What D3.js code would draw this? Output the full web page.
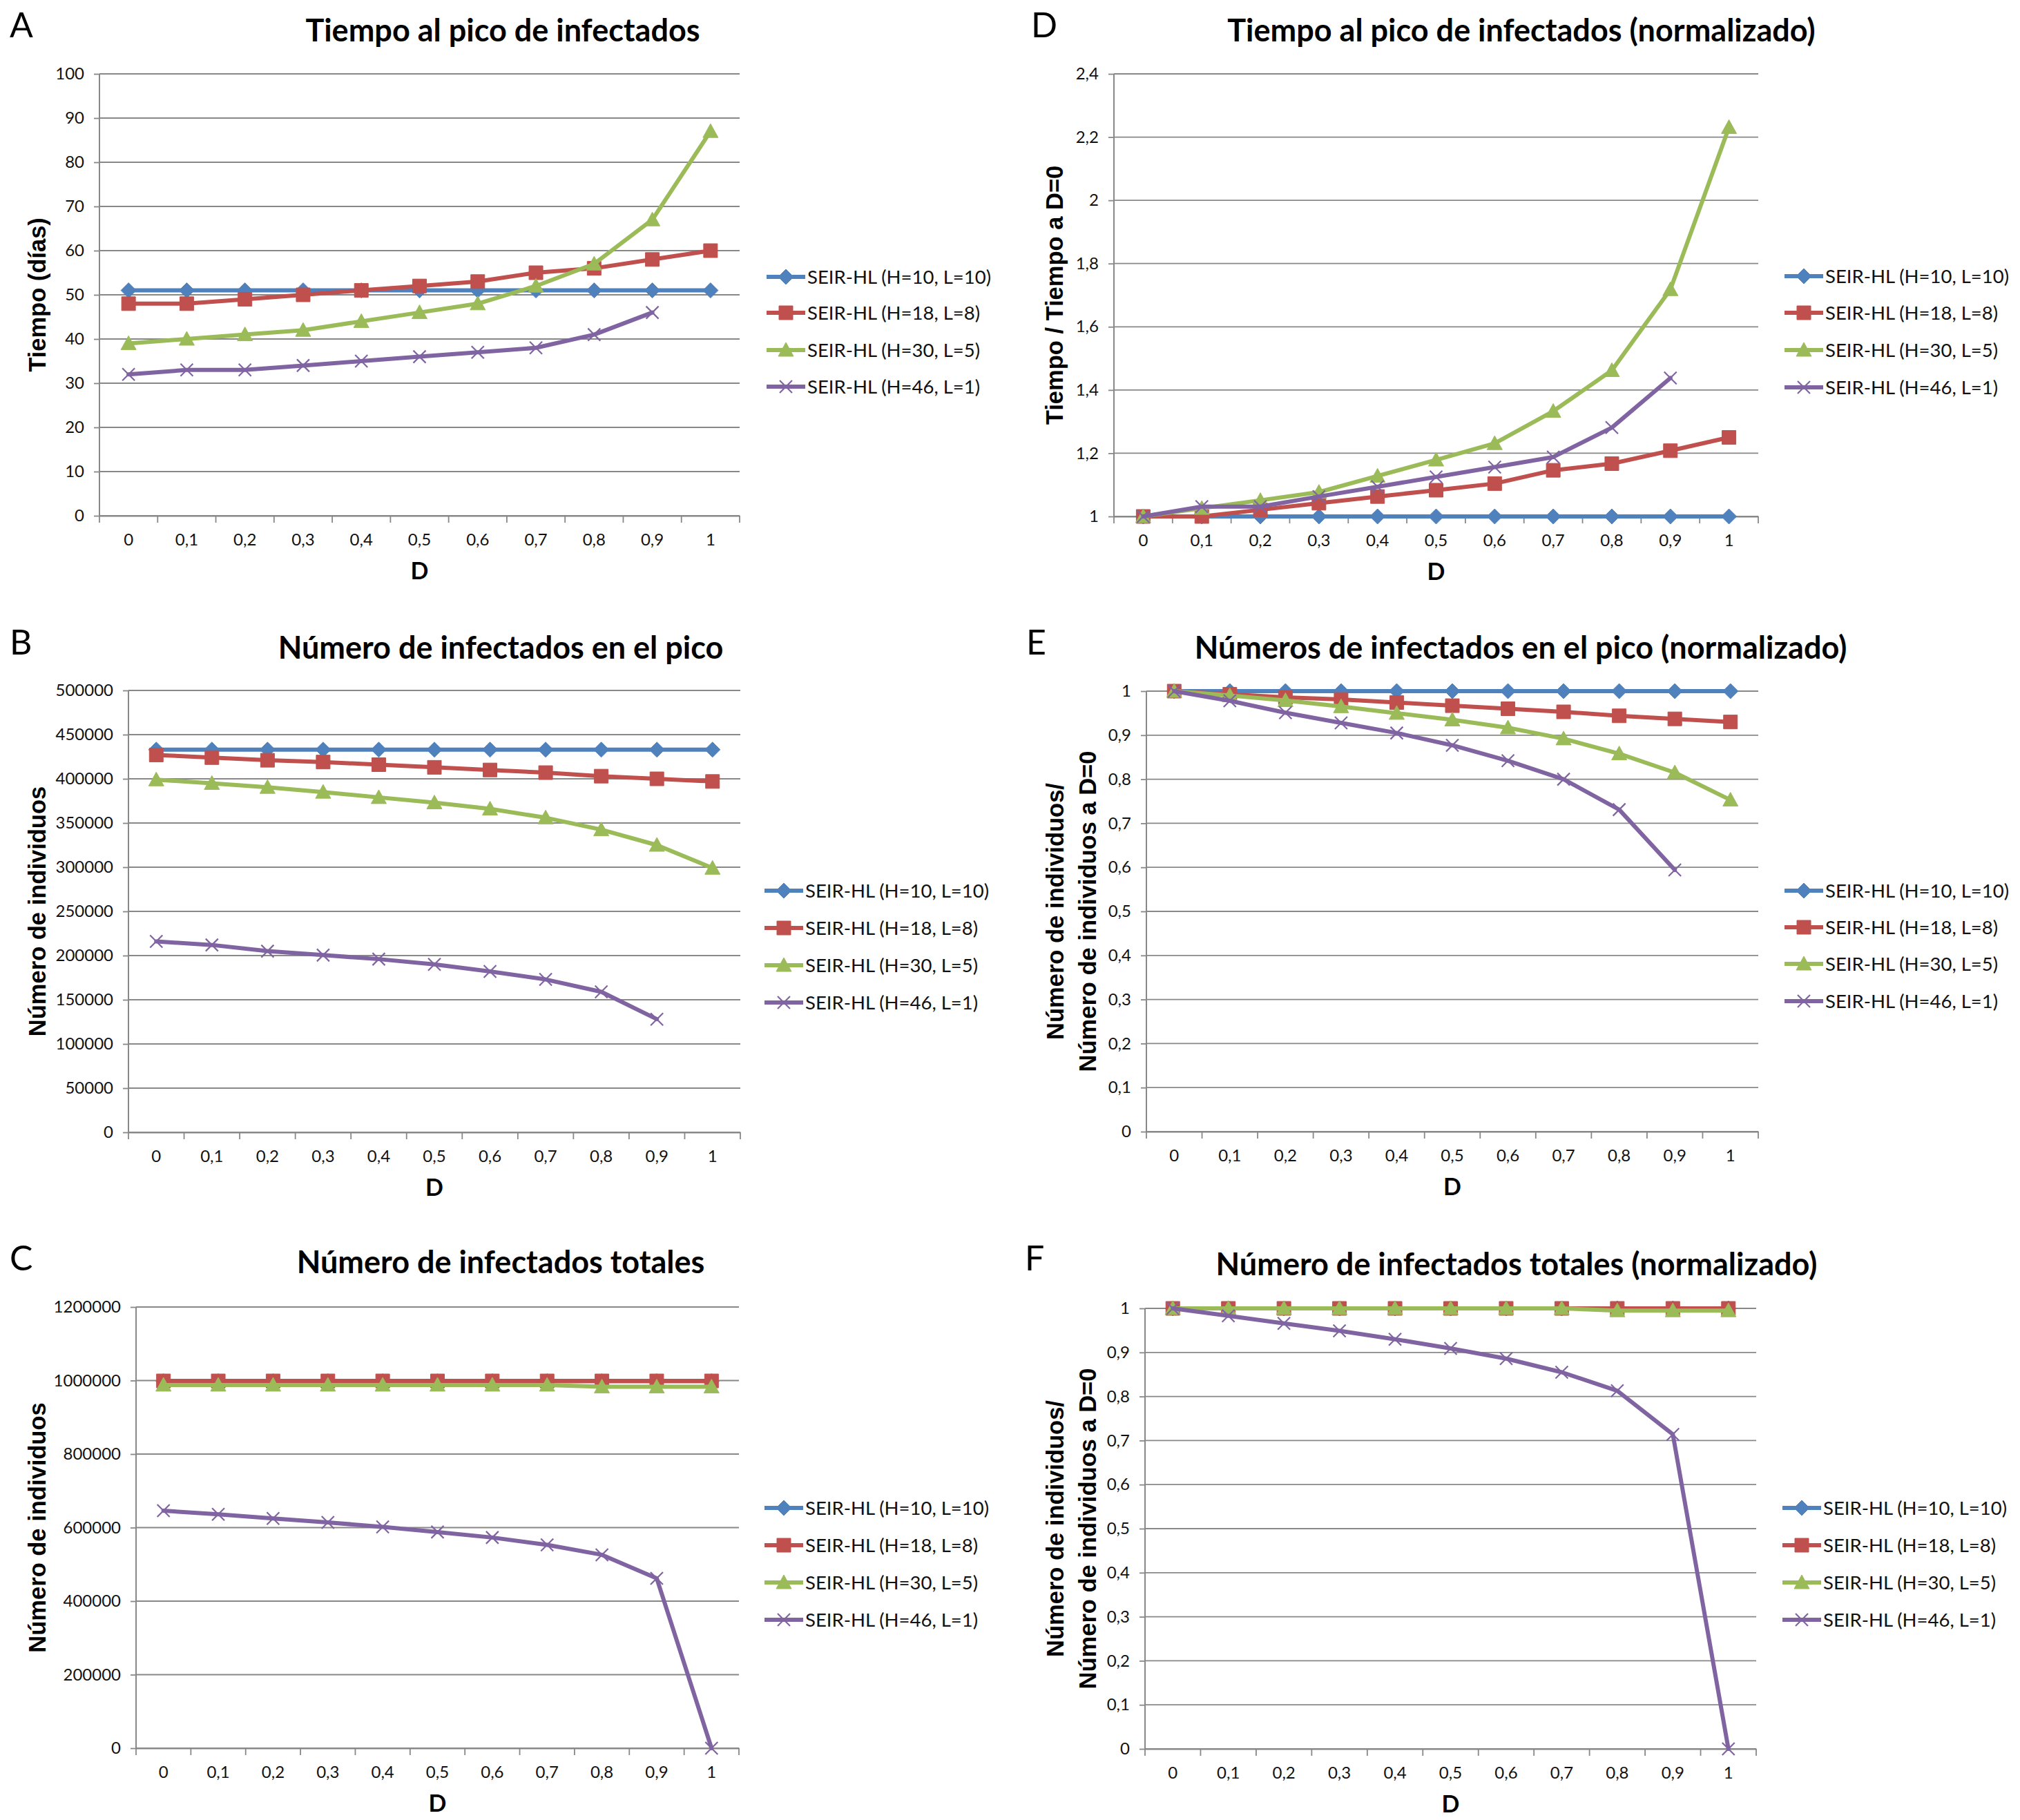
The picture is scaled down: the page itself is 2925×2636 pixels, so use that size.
<!DOCTYPE html>
<html><head><meta charset="utf-8">
<script src="https://cdn.jsdelivr.net/npm/d3@7"></script>
<style>body{margin:0;background:#fff} svg{display:block}</style>
</head><body>
<svg id="chart" width="2925" height="2636"></svg>
<script>
// ---------- DATA ----------
const categories = ["0","0,1","0,2","0,3","0,4","0,5","0,6","0,7","0,8","0,9","1"];
const seriesNames = ["SEIR-HL (H=10, L=10)","SEIR-HL (H=18, L=8)","SEIR-HL (H=30, L=5)","SEIR-HL (H=46, L=1)"];
const seriesColors = ["#4F81BD","#C0504D","#9BBB59","#8064A2"];
const seriesMarkers = ["diamond","square","triangle","x"];

// A: Tiempo al pico de infectados (días)
const peakTimeH10 = [51,51,51,51,51,51,51,51,51,51,51];
const peakTimeH18 = [48,48,49,50,51,52,53,55,56,58,60];
const peakTimeH30 = [39,40,41,42,44,46,48,52,57,67,87];
const peakTimeH46 = [32,33,33,34,35,36,37,38,41,46];

// D: Tiempo al pico (normalizado)
const peakTimeNormH10 = [1,1,1,1,1,1,1,1,1,1,1];
const peakTimeNormH18 = [1,1,1.021,1.042,1.063,1.083,1.104,1.146,1.167,1.208,1.25];
const peakTimeNormH30 = [1,1.026,1.051,1.077,1.128,1.179,1.231,1.333,1.462,1.718,2.231];
const peakTimeNormH46 = [1,1.031,1.031,1.063,1.094,1.125,1.156,1.188,1.281,1.438];

// B: Número de infectados en el pico
const peakInfH10 = [433000,433000,433000,433000,433000,433000,433000,433000,433000,433000,433000];
const peakInfH18 = [427000,424000,421000,419000,416000,413000,410000,407000,403000,400000,397000];
const peakInfH30 = [399000,395000,390500,385000,379000,373000,366000,356000,342500,325000,299000];
const peakInfH46 = [216000,212000,205000,200500,196000,190000,182000,173000,159000,128000];

// E: Números de infectados en el pico (normalizado)
const peakInfNormH10 = [1,1,1,1,1,1,1,1,1,1,1];
const peakInfNormH18 = [1,0.993,0.986,0.981,0.974,0.967,0.960,0.953,0.944,0.937,0.930];
const peakInfNormH30 = [1,0.990,0.979,0.965,0.950,0.935,0.917,0.892,0.858,0.815,0.753];
const peakInfNormH46 = [1,0.978,0.951,0.928,0.905,0.877,0.842,0.800,0.731,0.594];

// C: Número de infectados totales
const totalInfH10 = [998000,998000,998000,998000,998000,998000,998000,998000,998000,998000,998000];
const totalInfH18 = [999000,999000,999000,999000,999000,999000,999000,999000,999000,999000,999000];
const totalInfH30 = [988000,988000,988000,988000,988000,988000,988000,988000,983000,983000,983000];
const totalInfH46 = [646000,636000,625000,614000,602000,588000,573000,553000,526000,462000,0];

// F: Número de infectados totales (normalizado)
const totalInfNormH10 = [1,1,1,1,1,1,1,1,1,1,1];
const totalInfNormH18 = [1,1,1,1,1,1,1,1,1,1,1];
const totalInfNormH30 = [1,1,1,1,1,1,1,1,0.995,0.995,0.995];
const totalInfNormH46 = [1,0.983,0.966,0.949,0.930,0.909,0.886,0.855,0.813,0.714,0];

// ---------- LAYOUT ----------
const panels = [
  {letter:"A", title:"Tiempo al pico de infectados", yTitle:["Tiempo (días)"],
   yDomain:[0,100], yStep:10, series:[peakTimeH10,peakTimeH18,peakTimeH30,peakTimeH46],
   box:{l:144,r:1071,t:107,b:747}, letterPos:[14,54], titlePos:[728,60], yTitleX:[54],
   legend:{x:1110, ys:[401,453,507,560]}},
  {letter:"D", title:"Tiempo al pico de infectados (normalizado)", yTitle:["Tiempo / Tiempo a D=0"],
   yDomain:[1,2.4], yStep:0.2, series:[peakTimeNormH10,peakTimeNormH18,peakTimeNormH30,peakTimeNormH46],
   box:{l:1613,r:2546,t:107,b:748}, letterPos:[1493,54], titlePos:[2203,60], yTitleX:[1527],
   legend:{x:2584, ys:[400,453,507,561]}},
  {letter:"B", title:"Número de infectados en el pico", yTitle:["Número de individuos"],
   yDomain:[0,500000], yStep:50000, series:[peakInfH10,peakInfH18,peakInfH30,peakInfH46],
   box:{l:186,r:1072,t:1000,b:1640}, letterPos:[14,948], titlePos:[725,954], yTitleX:[54],
   legend:{x:1107, ys:[1290,1344,1398,1452]}},
  {letter:"E", title:"Números de infectados en el pico (normalizado)", yTitle:["Número de individuos/","Número de individuos a D=0"],
   yDomain:[0,1], yStep:0.1, series:[peakInfNormH10,peakInfNormH18,peakInfNormH30,peakInfNormH46],
   box:{l:1660,r:2546,t:1001,b:1639}, letterPos:[1486,948], titlePos:[2202,954], yTitleX:[1528,1575],
   legend:{x:2584, ys:[1290,1343,1396,1450]}},
  {letter:"C", title:"Número de infectados totales", yTitle:["Número de individuos"],
   yDomain:[0,1200000], yStep:200000, series:[totalInfH10,totalInfH18,totalInfH30,totalInfH46],
   box:{l:197,r:1070,t:1893,b:2532}, letterPos:[14,1840], titlePos:[725,1844], yTitleX:[54],
   legend:{x:1107, ys:[2184,2238,2292,2346]}},
  {letter:"F", title:"Número de infectados totales (normalizado)", yTitle:["Número de individuos/","Número de individuos a D=0"],
   yDomain:[0,1], yStep:0.1, series:[totalInfNormH10,totalInfNormH18,totalInfNormH30,totalInfNormH46],
   box:{l:1658,r:2543,t:1895,b:2533}, letterPos:[1484,1840], titlePos:[2196,1847], yTitleX:[1528,1575],
   legend:{x:2581, ys:[2184,2238,2292,2346]}}
];

const FONT = "Lato, 'Open Sans', sans-serif";
const AXFONT = "'Liberation Sans', Arial, sans-serif";
const GRID = "#888888";

function markerPath(type) {
  switch (type) {
    case "diamond": return "M0,-11L11,0L0,11L-11,0Z";
    case "square": return "M-10,-10H10V10H-10Z";
    case "triangle": return "M0,-11L11,9L-11,9Z";
    case "x": return "M-9,-9L9,9M9,-9L-9,9";
  }
}
function drawMarker(g, type, color, x, y) {
  const p = g.append("path").attr("d", markerPath(type))
    .attr("transform", `translate(${x},${y})`);
  if (type === "x") p.attr("fill","none").attr("stroke",color).attr("stroke-width",2.2);
  else p.attr("fill",color).attr("stroke",color).attr("stroke-width",1);
}
const fmt = d => {
  const v = Math.round(d*1000)/1000;
  return String(v).replace(".", ",");
};

const svg = d3.select("#chart");
svg.append("rect").attr("width",2925).attr("height",2636).attr("fill","#fff");

panels.forEach(P => {
  const g = svg.append("g");
  const {l,r,t,b} = P.box;
  const x = d3.scaleBand().domain(categories).range([l,r]);
  const y = d3.scaleLinear().domain(P.yDomain).range([b,t]);
  const cx = c => x(c) + x.bandwidth()/2;
  const yTicks = d3.range(P.yDomain[0], P.yDomain[1] + P.yStep/2, P.yStep);

  // gridlines + y axis
  const yAxis = d3.axisLeft(y).tickValues(yTicks).tickFormat(fmt).tickSize(8).tickPadding(14);
  const ya = g.append("g").attr("transform",`translate(${l},0)`).call(yAxis);
  ya.select(".domain").attr("stroke",GRID).attr("stroke-width",2).attr("d",`M0,${t}V${b}`);
  ya.selectAll(".tick line").attr("stroke",GRID).attr("stroke-width",1.8);
  ya.selectAll(".tick text").attr("font-family",FONT).attr("font-size",24).attr("fill","#111");
  g.append("g").selectAll("line").data(yTicks).join("line")
    .attr("x1",l).attr("x2",r).attr("y1",d=>y(d)).attr("y2",d=>y(d))
    .attr("stroke",GRID).attr("stroke-width",1.8);

  // x axis
  const xAxis = d3.axisBottom(x).tickSize(0).tickPadding(0);
  const xa = g.append("g").attr("transform",`translate(0,${b})`).call(xAxis);
  xa.select(".domain").attr("stroke",GRID).attr("stroke-width",2);
  xa.selectAll(".tick text").attr("font-family",FONT).attr("font-size",24).attr("fill","#111")
    .attr("y",35).attr("dy","0.35em");
  g.append("g").selectAll("line").data(d3.range(categories.length+1)).join("line")
    .attr("x1",i=>l+i*x.step()).attr("x2",i=>l+i*x.step())
    .attr("y1",b).attr("y2",b+10).attr("stroke",GRID).attr("stroke-width",1.8);

  // series
  P.series.forEach((vals, si) => {
    const pts = vals.map((v,i) => [cx(categories[i]), y(v)]);
    g.append("path").attr("d", d3.line()(pts)).attr("fill","none")
      .attr("stroke",seriesColors[si]).attr("stroke-width",6)
      .attr("stroke-linejoin","round").attr("stroke-linecap","round");
    const mg = g.append("g");
    pts.forEach(p => drawMarker(mg, seriesMarkers[si], seriesColors[si], p[0], p[1]));
  });

  // legend
  seriesNames.forEach((name, si) => {
    const ly = P.legend.ys[si], lx = P.legend.x;
    g.append("line").attr("x1",lx).attr("x2",lx+56).attr("y1",ly).attr("y2",ly)
      .attr("stroke",seriesColors[si]).attr("stroke-width",6);
    drawMarker(g, seriesMarkers[si], seriesColors[si], lx+28, ly);
    g.append("text").attr("x",lx+59).attr("y",ly).attr("dy","0.36em")
      .attr("font-family",FONT).attr("font-size",27.5).attr("fill","#111").text(name);
  });

  // titles
  g.append("text").attr("x",P.letterPos[0]).attr("y",P.letterPos[1])
    .attr("font-family",FONT).attr("font-size",50).attr("fill","#000").text(P.letter);
  g.append("text").attr("x",P.titlePos[0]).attr("y",P.titlePos[1]).attr("text-anchor","middle")
    .attr("font-family",FONT).attr("font-weight","bold").attr("font-size",45).attr("fill","#000").text(P.title);
  g.append("text").attr("x",(l+r)/2).attr("y",b+80).attr("dy","0.36em").attr("text-anchor","middle")
    .attr("font-family",FONT).attr("font-weight","bold").attr("font-size",34).attr("fill","#000").text("D");
  P.yTitle.forEach((line, li) => {
    const tx = P.yTitleX[li], ty = (t+b)/2;
    g.append("text").attr("transform",`translate(${tx},${ty}) rotate(-90)`)
      .attr("text-anchor","middle").attr("dy","0.36em")
      .attr("font-family",AXFONT).attr("font-weight","bold").attr("font-size",34.5).attr("fill","#000").text(line);
  });
});
</script>
</body></html>
